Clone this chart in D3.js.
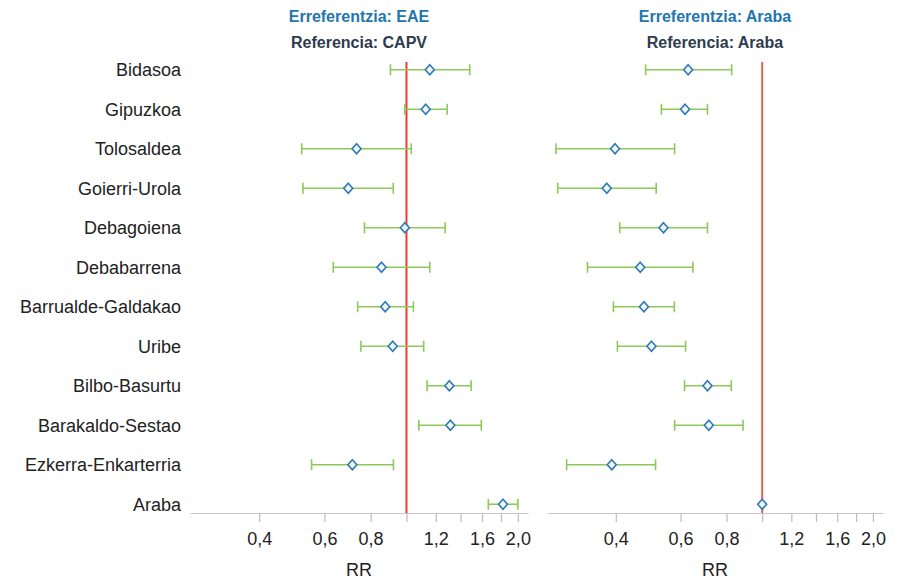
<!DOCTYPE html>
<html><head><meta charset="utf-8">
<script src="https://cdn.jsdelivr.net/npm/d3@7"></script>
<style>body{margin:0;background:#fff}svg{display:block}text{font-family:"Liberation Sans",Arial,sans-serif}</style>
</head><body><svg id="c" width="904" height="579"></svg>
<script>
const categories = ["Bidasoa","Gipuzkoa","Tolosaldea","Goierri-Urola","Debagoiena","Debabarrena","Barrualde-Galdakao","Uribe","Bilbo-Basurtu","Barakaldo-Sestao","Ezkerra-Enkarterria","Araba"];
// Panel 1: reference EAE / CAPV
const rrEAE   = [1.156,1.127,0.733,0.696,0.99,0.856,0.876,0.918,1.306,1.314,0.714,1.823];
const loEAE   = [0.905,0.989,0.521,0.525,0.770,0.634,0.738,0.753,1.137,1.080,0.554,1.664];
const hiEAE   = [1.482,1.288,1.030,0.921,1.272,1.156,1.044,1.113,1.495,1.593,0.922,2.000];
// Panel 2: reference Araba
const rrAraba = [0.629,0.617,0.398,0.378,0.539,0.466,0.477,0.500,0.710,0.716,0.390,1.0];
const loAraba = [0.482,0.532,0.275,0.278,0.410,0.335,0.394,0.404,0.615,0.578,0.294,1.0];
const hiAraba = [0.826,0.710,0.578,0.515,0.710,0.648,0.577,0.619,0.824,0.887,0.513,1.0];
const tickValues = [0.4,0.6,0.8,1.0,1.2,1.4,1.6,1.8,2.0];
const tickLabels = ["0,4","0,6","0,8","","1,2","","1,6","","2,0"];
const titles1 = ["Erreferentzia: EAE","Erreferentzia: Araba"];
const titles2 = ["Referencia: CAPV","Referencia: Araba"];
const xDomain = [0.26, 2.13];

const svg = d3.select("#c");
const y = d3.scaleBand().domain(categories).range([50, 524]).padding(0);
const axisY = 513;

// category labels
svg.append("g").selectAll("text").data(categories).join("text")
  .attr("x", 181).attr("y", d => y(d) + y.bandwidth()/2)
  .attr("dy", "0.35em").attr("text-anchor", "end")
  .attr("font-size", 18).attr("fill", "#222").text(d => d);

const panels = [
  {x0:190, x1:528, rr:rrEAE, lo:loEAE, hi:hiEAE, ref:"#f03a2c"},
  {x0:547, x1:883, rr:rrAraba, lo:loAraba, hi:hiAraba, ref:"#f0604e"}
];

panels.forEach((p, pi) => {
  const x = d3.scaleLog().domain(xDomain).range([p.x0, p.x1]);
  const g = svg.append("g");
  const cx = (p.x0 + p.x1) / 2;
  g.append("text").attr("x", cx).attr("y", 22).attr("text-anchor","middle")
    .attr("font-size",16).attr("font-weight","bold").attr("fill","#2176ae").text(titles1[pi]);
  g.append("text").attr("x", cx).attr("y", 48).attr("text-anchor","middle")
    .attr("font-size",16).attr("font-weight","bold").attr("fill","#2e3b4e").text(titles2[pi]);

  // axis
  const ax = d3.axisBottom(x).tickValues(tickValues)
    .tickFormat((d,i) => tickLabels[i]).tickSizeOuter(0).tickSizeInner(9).tickPadding(10);
  const axg = g.append("g").attr("transform", `translate(0,${axisY})`).call(ax);
  axg.select(".domain").attr("stroke", "#c8c8c8").attr("stroke-width", 1.2);
  axg.selectAll(".tick line").attr("stroke", "#bdbdbd").attr("stroke-width", 1.2);
  axg.selectAll(".tick text").attr("font-size", 18).attr("fill", "#222")
    .attr("font-family", '"Liberation Sans",Arial,sans-serif');
  g.append("text").attr("x", cx).attr("y", 576).attr("text-anchor","middle")
    .attr("font-size",18).attr("fill","#222").text("RR");

  // reference line
  g.append("line").attr("x1", x(1)).attr("x2", x(1)).attr("y1", 62).attr("y2", axisY)
    .attr("stroke", p.ref).attr("stroke-width", 2);

  const idx = d3.range(categories.length);
  const cy = i => y(categories[i]) + y.bandwidth()/2;
  const eb = g.append("g").attr("stroke", "#8dc95a").attr("stroke-width", 1.6);
  idx.filter(i => p.hi[i] > p.lo[i]).forEach(i => {
    eb.append("line").attr("x1", x(p.lo[i])).attr("x2", x(p.hi[i])).attr("y1", cy(i)).attr("y2", cy(i));
    eb.append("line").attr("x1", x(p.lo[i])).attr("x2", x(p.lo[i])).attr("y1", cy(i)-5.5).attr("y2", cy(i)+5.5);
    eb.append("line").attr("x1", x(p.hi[i])).attr("x2", x(p.hi[i])).attr("y1", cy(i)-5.5).attr("y2", cy(i)+5.5);
  });
  g.append("g").selectAll("path").data(idx).join("path")
    .attr("transform", i => `translate(${x(p.rr[i])},${cy(i)})`)
    .attr("d", "M0,-5L4.5,0L0,5L-4.5,0Z")
    .attr("fill", "#eef6fb").attr("stroke", "#2e78b4").attr("stroke-width", 1.6);
});
</script></body></html>
